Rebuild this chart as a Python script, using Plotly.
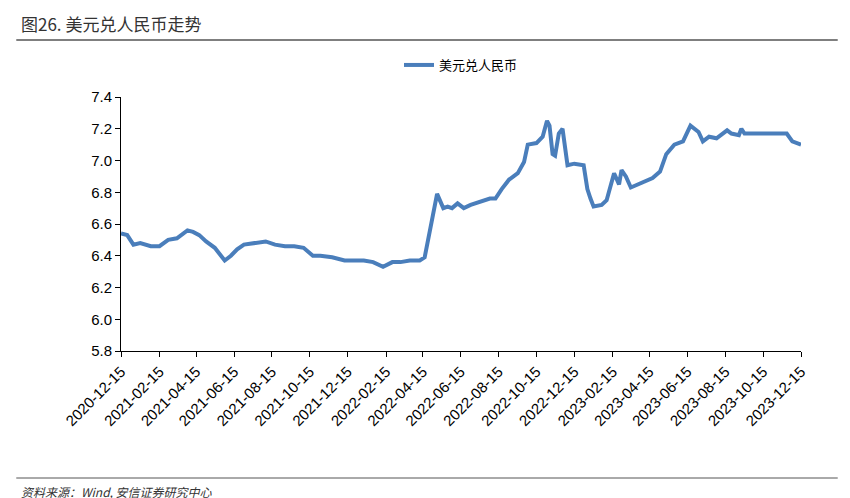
import plotly.graph_objects as go

dates = ["2020-12-15","2020-12-25","2021-01-04","2021-01-15","2021-02-01","2021-02-15","2021-03-01","2021-03-15","2021-04-01","2021-04-10","2021-04-20","2021-05-01","2021-05-15","2021-05-31","2021-06-10","2021-06-20","2021-07-01","2021-07-20","2021-08-05","2021-08-20","2021-09-05","2021-09-20","2021-10-05","2021-10-20","2021-11-01","2021-11-20","2021-12-10","2021-12-25","2022-01-10","2022-01-25","2022-02-10","2022-02-25","2022-03-10","2022-03-25","2022-04-10","2022-04-18","2022-04-25","2022-05-01","2022-05-08","2022-05-12","2022-05-18","2022-05-25","2022-06-01","2022-06-10","2022-06-20","2022-07-01","2022-07-15","2022-08-01","2022-08-10","2022-08-20","2022-09-01","2022-09-15","2022-09-25","2022-10-01","2022-10-15","2022-10-25","2022-11-01","2022-11-05","2022-11-10","2022-11-14","2022-11-20","2022-11-26","2022-12-04","2022-12-15","2022-12-30","2023-01-05","2023-01-10","2023-01-15","2023-01-28","2023-02-05","2023-02-17","2023-02-25","2023-03-01","2023-03-08","2023-03-16","2023-04-06","2023-04-20","2023-05-02","2023-05-12","2023-05-25","2023-06-08","2023-06-20","2023-07-03","2023-07-10","2023-07-20","2023-08-01","2023-08-18","2023-08-25","2023-09-06","2023-09-10","2023-09-15","2023-10-01","2023-10-20","2023-11-10","2023-11-22","2023-12-01","2023-12-10","2023-12-15"]
usdcny = [6.54,6.53,6.47,6.48,6.46,6.46,6.50,6.51,6.56,6.55,6.53,6.49,6.45,6.37,6.40,6.44,6.47,6.48,6.49,6.47,6.46,6.46,6.45,6.40,6.40,6.39,6.37,6.37,6.37,6.36,6.33,6.36,6.36,6.37,6.37,6.39,6.55,6.65,6.79,6.75,6.70,6.71,6.70,6.73,6.70,6.72,6.74,6.76,6.76,6.82,6.88,6.92,6.99,7.10,7.11,7.15,7.25,7.22,7.04,7.03,7.17,7.20,6.97,6.98,6.97,6.82,6.76,6.71,6.72,6.75,6.92,6.85,6.94,6.90,6.83,6.87,6.89,6.93,7.04,7.10,7.12,7.22,7.18,7.12,7.15,7.14,7.19,7.17,7.16,7.20,7.17,7.17,7.17,7.17,7.17,7.12,7.11,7.10]

ticks = ["2020-12-15","2021-02-15","2021-04-15","2021-06-15","2021-08-15","2021-10-15","2021-12-15","2022-02-15","2022-04-15","2022-06-15","2022-08-15","2022-10-15","2022-12-15","2023-02-15","2023-04-15","2023-06-15","2023-08-15","2023-10-15","2023-12-15"]

fig = go.Figure(go.Scatter(x=dates, y=usdcny, mode="lines", name="美元兑人民币",
                           line=dict(color="#4a7ebb", width=4)))
font = "Noto Sans CJK SC"
fig.update_layout(
    width=850, height=498, paper_bgcolor="white", plot_bgcolor="white",
    margin=dict(l=113, r=57, t=89, b=155, autoexpand=False),
    font=dict(family=font, size=15, color="black"),
    showlegend=True,
    legend=dict(orientation="h", x=0.5, xanchor="center", y=1.126, yanchor="middle", font=dict(size=13)),
    xaxis=dict(type="date", range=["2020-12-15","2023-12-15"], tickvals=ticks, ticktext=ticks, automargin=False,
               tickangle=-45, showline=True, linecolor="black", ticks="outside", tickcolor="black",
               ticklen=5, showgrid=False, tickfont=dict(family="Arial", size=15)),
    yaxis=dict(range=[5.8,7.4], dtick=0.2, tickformat=".1f", showline=True, linecolor="black", automargin=False,
               ticks="outside", tickcolor="black", ticklen=5, showgrid=False, tickfont=dict(family="Arial", size=15)),
    shapes=[
        dict(type="line", xref="paper", yref="paper", x0=-0.154, x1=1.054, y0=1.224, y1=1.224, line=dict(color="#555", width=1.5)),
        dict(type="line", xref="paper", yref="paper", x0=-0.154, x1=1.054, y0=-0.5, y1=-0.5, line=dict(color="#555", width=1)),
    ],
    annotations=[
        dict(text="图26. 美元兑人民币走势", xref="paper", yref="paper", x=-0.15, y=1.29, xanchor="left", yanchor="middle",
             showarrow=False, font=dict(size=17, color="#333")),
        dict(text="<i>资料来源：Wind, 安信证券研究中心</i>", xref="paper", yref="paper", x=-0.15, y=-0.555, xanchor="left", yanchor="middle",
             showarrow=False, font=dict(size=12, color="#333")),
    ],
)
fig.write_html("out.html")
